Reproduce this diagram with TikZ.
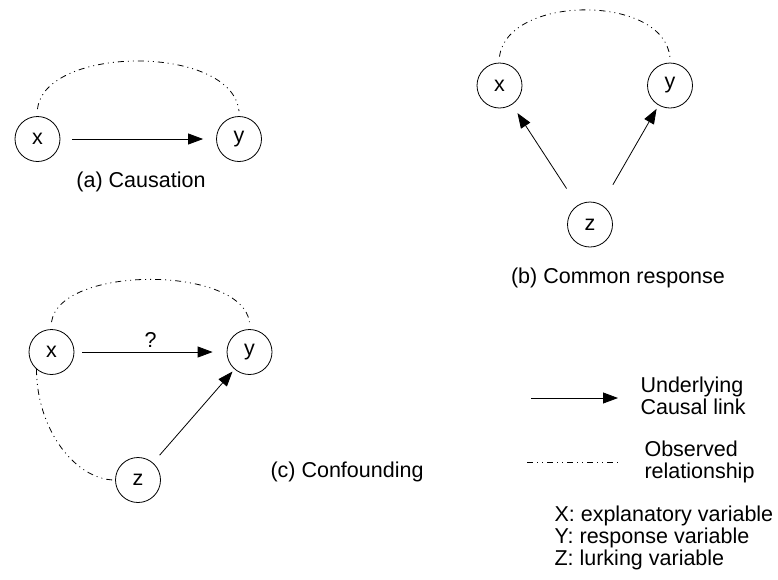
\documentclass[tikz,border=0pt]{standalone}
\usepackage{fontspec}
\setmainfont{Liberation Sans}
\usetikzlibrary{arrows.meta}
\usetikzlibrary{positioning}
\tikzset{var/.style={circle, draw, line width=0.8pt, minimum size=45pt, inner sep=0pt},
causal/.style={line width=0.8pt, -{Triangle[length=15pt,width=11pt]}},
observed/.style={line width=0.8pt, dash pattern=on 6pt off 4pt on 1pt off 4pt on 1pt off 4pt}}

\begin{document}
\begin{tikzpicture}[x=1pt, y=-1pt, every node/.style={font=\fontsize{21.5}{22}\selectfont}]
\useasboundingbox (0,0) rectangle (778,579);
% (a) causation
\node (xa) at (37.5,139) [var] {x};
\node (ya) at (239,139) [var] {y};
\node (capa) at (141,182) {(a) Causation};
\draw[causal, shorten <=12pt, shorten >=13pt] (xa) -- (ya);
\draw[observed] ([yshift=7pt]xa.north) .. controls +(7,-64) and +(-7,-67) .. ([yshift=5pt]ya.north);
% (b) common response
\node (xb) at (499.5,85.5) [var] {x};
\node (yb) at (670,85.5) [var] {y};
\node (zb) at (590,224.5) [var] {z};
\node (capb) at (618,278) {(b) Common response};
\draw[causal, shorten <=20pt, shorten >=10pt] (zb) -- (xb);
\draw[causal, shorten <=23pt, shorten >=4pt] (zb) -- (yb);
\draw[observed] ([yshift=6pt]xb.north) .. controls +(8,-62) and +(-6,-64) .. ([yshift=5pt]yb.north);
% (c) confounding
\node (xc) at (51.5,352) [var] {x};
\node (yc) at (249.5,352) [var] {y};
\node (zc) at (138,480) [var] {z};
\node (capc) at (267,472) [anchor=west] {(c) Confounding};
\draw[causal, shorten <=8pt, shorten >=14pt] (xc) -- node[above=1pt] (q) {?} (yc);
\draw[causal, shorten <=10pt, shorten >=3pt] (zc) -- (yc);
\draw[observed] ([yshift=7pt]xc.north) .. controls +(8,-57) and +(-8,-57) .. ([yshift=7pt]yc.north);
\draw[observed] ([xshift=-15pt,yshift=-17pt]xc.center) .. controls +(0,60) and +(-40,0) .. (zc.west);
% legend
\coordinate (la) at (531,398);
\coordinate (lb) at (618,398);
\coordinate (lc) at (527,462);
\coordinate (ld) at (618,462);
\draw[causal] (la) -- (lb);
\draw[observed] (lc) -- (ld);
\node (causlink) at (637,396) [anchor=west, align=left] {Underlying\\Causal link};
\node (obsrel) at (641,462) [anchor=west, align=left] {Observed\\relationship};
\node (key) at (551,538) [anchor=west, align=left] {X: explanatory variable\\Y: response variable\\Z: lurking variable};
\end{tikzpicture}
\end{document}
